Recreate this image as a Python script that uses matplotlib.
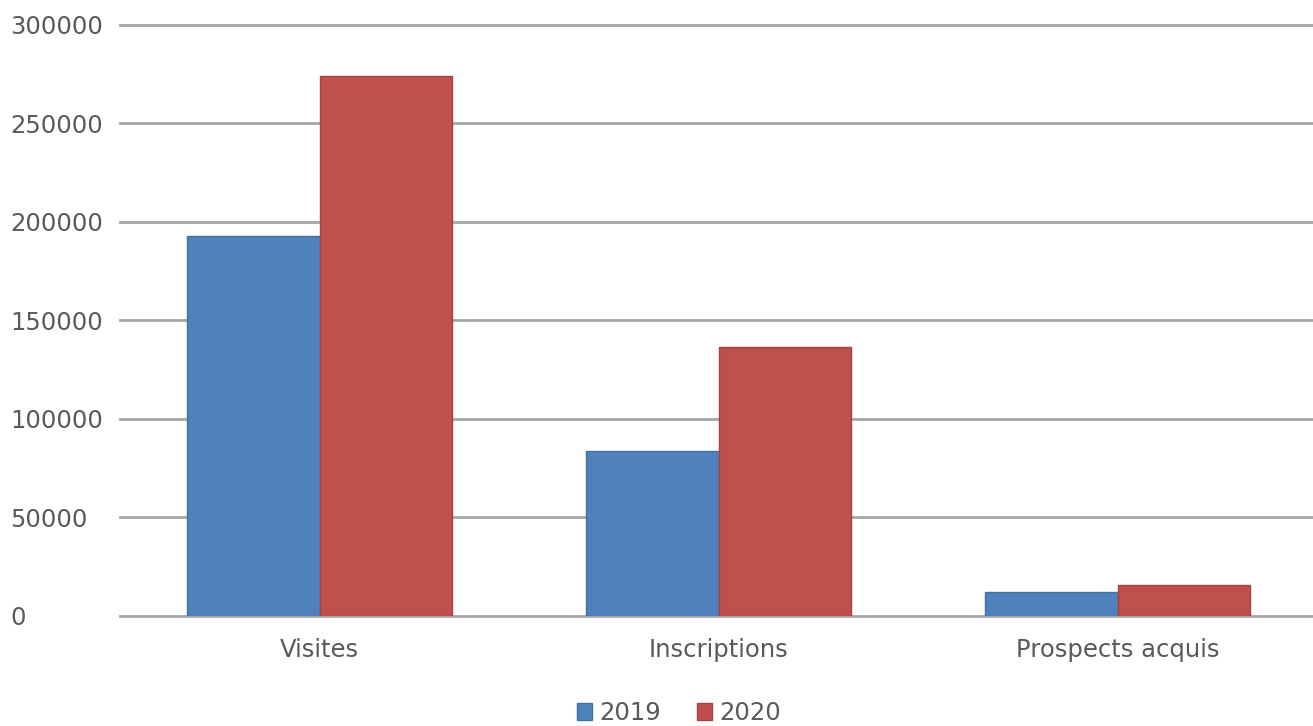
import matplotlib
matplotlib.use("Agg")
import matplotlib.pyplot as plt
import numpy as np
from matplotlib.patches import Patch

categories = ["Visites", "Inscriptions", "Prospects acquis"]
series_names = ["2019", "2020"]
values_2019 = [192800, 83700, 12200]
values_2020 = [274100, 136600, 15400]
yticks = [0, 50000, 100000, 150000, 200000, 250000, 300000]

colors = ["#4F81BD", "#C0504D"]
edges = ["#41719C", "#A5423F"]

W, H = 1313, 726
fig = plt.figure(figsize=(W / 100, H / 100), dpi=100)
plt.rcParams['font.family'] = ['DejaVu Sans']
ax = fig.add_axes([120 / W, (H - 615.7) / H, 1197 / W, 590.7 / H])

x = np.arange(len(categories))
bw = 0.332
ax.bar(x - bw / 2, values_2019, bw, color=colors[0], edgecolor=edges[0], linewidth=1, zorder=3)
ax.bar(x + bw / 2, values_2020, bw, color=colors[1], edgecolor=edges[1], linewidth=1, zorder=3)

ax.set_xlim(-0.5, len(categories) - 0.5)
ax.set_ylim(0, 300000)
ax.set_yticks(yticks)
ax.set_yticklabels([str(v) for v in yticks])
for lab in ax.get_yticklabels():
    lab.set_horizontalalignment('left')
ax.tick_params(axis='y', length=0, pad=79, labelsize=17.5, labelcolor='#595959')
ax.set_xticks(x)
ax.set_xticklabels(categories)
ax.tick_params(axis='x', length=0, pad=16, labelsize=17.5, labelcolor='#595959')

ax.grid(axis='y', color='#A6A6A6', linewidth=2)
for gl in ax.get_ygridlines():
    gl.set_clip_on(False)
ax.set_axisbelow(True)
for s in ax.spines.values():
    s.set_visible(False)

handles = [Patch(facecolor=colors[i], edgecolor=edges[i], label=series_names[i]) for i in range(2)]
fig.legend(handles=handles, loc='center', bbox_to_anchor=(679 / W, 1 - 713 / H), ncol=2,
           frameon=False, fontsize=17.5, handlelength=0.65, handleheight=0.65,
           handletextpad=0.3, columnspacing=1.45, labelcolor='#595959')

fig.savefig("out.png", dpi=100)
